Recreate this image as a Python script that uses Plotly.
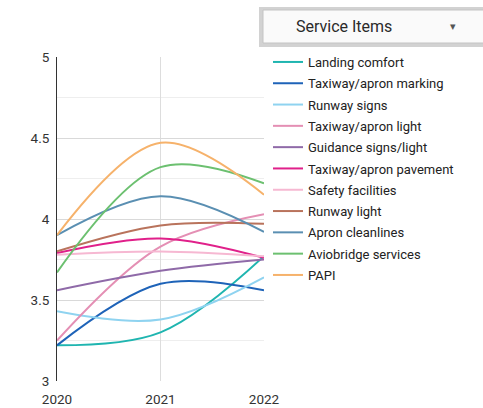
import plotly.graph_objects as go

# Survey years and mean satisfaction score per service item
years = [2020, 2021, 2022]

service_items = [
    "Landing comfort",
    "Taxiway/apron marking",
    "Runway signs",
    "Taxiway/apron light",
    "Guidance signs/light",
    "Taxiway/apron pavement",
    "Safety facilities",
    "Runway light",
    "Apron cleanlines",
    "Aviobridge services",
    "PAPI",
]

landing_comfort = [3.22, 3.30, 3.77]
taxiway_apron_marking = [3.22, 3.60, 3.56]
runway_signs = [3.43, 3.38, 3.64]
taxiway_apron_light = [3.25, 3.83, 4.03]
guidance_signs_light = [3.56, 3.68, 3.75]
taxiway_apron_pavement = [3.79, 3.88, 3.76]
safety_facilities = [3.78, 3.80, 3.77]
runway_light = [3.80, 3.96, 3.97]
apron_cleanlines = [3.90, 4.14, 3.92]
aviobridge_services = [3.67, 4.32, 4.22]
papi = [3.90, 4.47, 4.15]

series = [
    landing_comfort,
    taxiway_apron_marking,
    runway_signs,
    taxiway_apron_light,
    guidance_signs_light,
    taxiway_apron_pavement,
    safety_facilities,
    runway_light,
    apron_cleanlines,
    aviobridge_services,
    papi,
]

colors = [
    "#1fb5b0",
    "#1e63b8",
    "#8fd3f0",
    "#e48fb4",
    "#8f6aa8",
    "#e0208a",
    "#f6b8d2",
    "#b9735c",
    "#5a8fb2",
    "#6cc070",
    "#f6b26b",
]

W, H = 483, 408
L, R, T, B = 57, 264, 57, 381  # plot area in pixels


def px(x):
    return (x - L) / (R - L)


def py(y):
    return 1 - (y - T) / (B - T)


fig = go.Figure()
for name, vals, col in zip(service_items, series, colors):
    fig.add_trace(
        go.Scatter(
            x=years,
            y=vals,
            name=name,
            legendgroup=name,
            mode="lines",
            line=dict(color=col, width=2, shape="spline", smoothing=1.0),
        )
    )

# "Service Items" selector box at the top right
fig.add_shape(type="rect", xref="paper", yref="paper",
              x0=px(259), x1=px(495), y0=py(47), y1=py(7),
              fillcolor="#d2d2d2", line=dict(width=0), layer="above")
fig.add_shape(type="rect", xref="paper", yref="paper",
              x0=px(263), x1=px(495), y0=py(43), y1=py(10),
              fillcolor="#fafafa", line=dict(color="#c4c4c4", width=1), layer="above")
fig.add_annotation(text="Service Items", xref="paper", yref="paper",
                   x=px(344), y=py(26), xanchor="center", yanchor="middle",
                   showarrow=False,
                   font=dict(family="Roboto", size=16, color="#2a2a2a"))
fig.add_annotation(text="▾", xref="paper", yref="paper",
                   x=px(453), y=py(26), xanchor="center", yanchor="middle",
                   showarrow=False,
                   font=dict(family="Roboto", size=11, color="#555555"))

fig.update_layout(
    width=W,
    height=H,
    margin=dict(l=L, r=W - R, t=T, b=H - B, autoexpand=False),
    paper_bgcolor="white",
    plot_bgcolor="white",
    font=dict(family="Roboto", size=13, color="#333333"),
    showlegend=True,
    legend=dict(
        x=px(268), y=py(47), xanchor="left", yanchor="top",
        font=dict(family="Roboto", size=13, color="#222222"),
        itemwidth=30,
        tracegroupgap=1.4,
        maxheight=400,
        bgcolor="rgba(0,0,0,0)",
    ),
    xaxis=dict(
        range=[2020, 2022],
        tickvals=years,
        ticktext=[str(y) for y in years],
        showgrid=True,
        gridcolor="#dddddd",
        zeroline=False,
        showline=False,
        ticks="",
        automargin=False,
        ticklabelstandoff=8,
        tickfont=dict(size=13.5, color="#333333"),
        fixedrange=True,
    ),
    yaxis=dict(
        range=[3, 5],
        tickvals=[3, 3.5, 4, 4.5, 5],
        ticktext=["3", "3.5", "4", "4.5", "5"],
        showgrid=True,
        gridcolor="#d9d9d9",
        minor=dict(dtick=0.25, showgrid=True, gridcolor="#eeeeee"),
        zeroline=False,
        showline=True,
        linecolor="#333333",
        linewidth=1,
        ticks="",
        automargin=False,
        ticklabelstandoff=4,
        tickfont=dict(size=13.5, color="#333333"),
        fixedrange=True,
    ),
)

fig.write_html("out.html")
